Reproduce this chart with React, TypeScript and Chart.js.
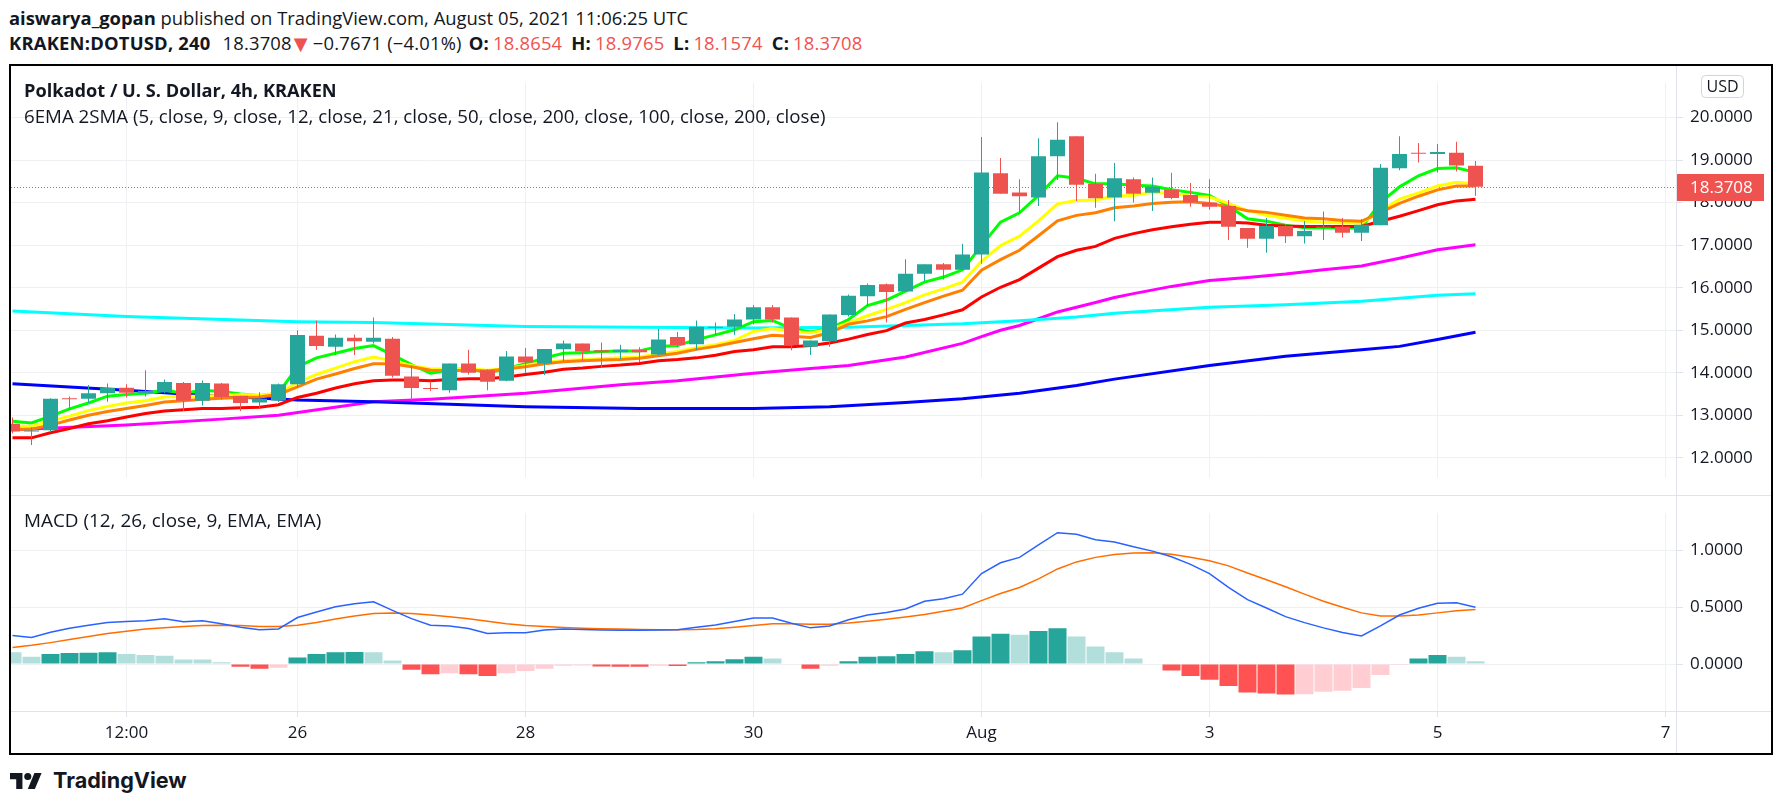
import React, { useEffect, useRef } from 'react';
import { Chart, registerables } from 'chart.js';

Chart.register(...registerables);

// ---------- data ----------
const tickIdx = [6, 15, 27, 39, 51, 63, 75, 87];
const tickLabels = ['12:00', '26', '28', '30', 'Aug', '3', '5', '7'];
const priceTicks = [12, 13, 14, 15, 16, 17, 18, 19, 20];
const macdTicks = [0, 0.5, 1];

const opens = [
  12.80, 12.62, 12.65, 13.40, 13.39, 13.52, 13.65, 13.52, 13.54, 13.76,
  13.34, 13.75, 13.46, 13.30, 13.35, 13.73, 14.87, 14.61, 14.82, 14.73,
  14.80, 13.91, 13.64, 13.59, 14.22, 14.06, 13.81, 14.38, 14.22, 14.55,
  14.69, 14.53, 14.48, 14.54, 14.43, 14.84, 14.67, 15.06, 15.08, 15.25,
  15.54, 15.30, 14.61, 14.74, 15.36, 15.80, 16.08, 15.91, 16.33, 16.55,
  16.42, 16.78, 18.69, 18.24, 18.12, 19.09, 19.56, 18.44, 18.12, 18.55,
  18.23, 18.30, 18.18, 18.00, 17.92, 17.40, 17.15, 17.45, 17.21, 17.41,
  17.43, 17.29, 17.47, 18.81, 19.17, 19.14, 19.17, 18.8654,
];
const highs = [
  12.95, 12.72, 13.40, 13.44, 13.71, 13.75, 13.73, 14.06, 13.84, 13.78,
  13.82, 13.76, 13.46, 13.54, 13.75, 15.00, 15.23, 14.90, 14.90, 15.30,
  14.84, 14.17, 13.80, 14.22, 14.54, 14.08, 14.51, 14.58, 14.56, 14.76,
  14.69, 14.71, 14.66, 14.60, 15.03, 14.96, 15.23, 15.18, 15.38, 15.59,
  15.59, 15.30, 14.76, 15.37, 15.84, 16.10, 16.10, 16.67, 16.55, 16.58,
  17.03, 19.54, 19.05, 18.55, 19.51, 19.89, 19.56, 18.68, 18.93, 18.59,
  18.59, 18.70, 18.46, 18.55, 18.06, 17.40, 17.64, 17.48, 17.57, 17.79,
  17.64, 17.61, 18.91, 19.56, 19.40, 19.38, 19.43, 18.9765,
];
const lows = [
  12.58, 12.30, 12.60, 13.13, 13.29, 13.32, 13.42, 13.44, 13.52, 13.10,
  13.23, 13.37, 13.10, 13.16, 13.31, 13.66, 14.54, 14.42, 14.42, 14.69,
  13.89, 13.36, 13.57, 13.53, 13.96, 13.59, 13.80, 13.99, 13.95, 14.27,
  14.27, 14.11, 14.32, 14.25, 14.40, 14.60, 14.53, 14.89, 14.89, 15.14,
  15.18, 14.53, 14.42, 14.61, 15.32, 15.57, 15.18, 15.90, 16.15, 16.19,
  16.42, 16.56, 18.21, 17.77, 17.92, 18.53, 18.04, 17.88, 17.56, 18.00,
  17.80, 18.08, 17.90, 17.83, 17.12, 16.94, 16.82, 17.05, 17.04, 17.12,
  17.18, 17.10, 17.47, 18.76, 18.94, 18.71, 18.73, 18.1574,
];
const closes = [
  12.62, 12.64, 13.39, 13.38, 13.52, 13.65, 13.53, 13.57, 13.78, 13.34,
  13.76, 13.43, 13.29, 13.39, 13.73, 14.89, 14.63, 14.82, 14.74, 14.82,
  13.93, 13.64, 13.62, 14.22, 14.00, 13.79, 14.38, 14.24, 14.56, 14.69,
  14.50, 14.48, 14.54, 14.48, 14.78, 14.65, 15.08, 15.08, 15.25, 15.54,
  15.25, 14.65, 14.76, 15.37, 15.81, 16.06, 15.90, 16.33, 16.55, 16.42,
  16.78, 18.71, 18.21, 18.15, 19.09, 19.48, 18.42, 18.10, 18.57, 18.21,
  18.37, 18.11, 18.00, 17.90, 17.43, 17.15, 17.45, 17.21, 17.33, 17.43,
  17.29, 17.48, 18.82, 19.14, 19.15, 19.19, 18.87, 18.3708,
];

const ema5 = [
  12.86, 12.82, 12.98, 13.15, 13.29, 13.45, 13.49, 13.52, 13.59, 13.52,
  13.59, 13.56, 13.50, 13.46, 13.52, 14.14, 14.35, 14.46, 14.57, 14.64,
  14.42, 14.19, 13.99, 14.06, 14.11, 13.99, 14.10, 14.21, 14.35, 14.46,
  14.47, 14.50, 14.51, 14.51, 14.62, 14.64, 14.78, 14.89, 15.01, 15.20,
  15.23, 15.04, 14.96, 15.04, 15.25, 15.58, 15.71, 15.92, 16.13, 16.25,
  16.42, 16.99, 17.54, 17.76, 18.17, 18.63, 18.57, 18.44, 18.44, 18.41,
  18.39, 18.30, 18.24, 18.17, 17.92, 17.62, 17.56, 17.47, 17.41, 17.41,
  17.40, 17.41, 18.00, 18.37, 18.63, 18.80, 18.82, 18.71,
];
const ema9 = [
  12.74, 12.74, 12.87, 12.98, 13.11, 13.21, 13.29, 13.34, 13.43, 13.45,
  13.45, 13.47, 13.49, 13.47, 13.52, 13.77, 13.96, 14.11, 14.26, 14.37,
  14.28, 14.17, 14.09, 14.09, 14.10, 14.06, 14.10, 14.17, 14.24, 14.29,
  14.31, 14.33, 14.35, 14.37, 14.44, 14.50, 14.59, 14.66, 14.76, 14.97,
  15.04, 14.97, 14.94, 15.02, 15.17, 15.34, 15.49, 15.65, 15.83, 15.97,
  16.13, 16.62, 16.99, 17.21, 17.57, 17.97, 18.05, 18.06, 18.15, 18.17,
  18.24, 18.22, 18.15, 18.13, 17.98, 17.81, 17.70, 17.63, 17.57, 17.54,
  17.52, 17.52, 17.79, 18.08, 18.23, 18.39, 18.48, 18.44,
];
const ema12 = [
  12.67, 12.67, 12.77, 12.89, 13.00, 13.09, 13.16, 13.23, 13.31, 13.34,
  13.38, 13.40, 13.42, 13.43, 13.49, 13.67, 13.85, 13.97, 14.10, 14.21,
  14.21, 14.14, 14.06, 14.05, 14.06, 14.04, 14.09, 14.14, 14.21, 14.26,
  14.28, 14.30, 14.31, 14.34, 14.40, 14.46, 14.55, 14.62, 14.71, 14.80,
  14.88, 14.86, 14.83, 14.94, 15.14, 15.22, 15.32, 15.49, 15.65, 15.80,
  15.94, 16.41, 16.66, 16.88, 17.22, 17.57, 17.70, 17.76, 17.88, 17.92,
  17.98, 18.01, 18.02, 17.98, 17.90, 17.81, 17.77, 17.70, 17.64, 17.62,
  17.58, 17.56, 17.77, 17.98, 18.15, 18.30, 18.39, 18.39,
];
const ema21 = [
  12.47, 12.47, 12.59, 12.69, 12.80, 12.87, 12.96, 13.04, 13.10, 13.13,
  13.16, 13.16, 13.18, 13.19, 13.25, 13.42, 13.52, 13.64, 13.74, 13.81,
  13.83, 13.83, 13.81, 13.84, 13.86, 13.86, 13.90, 13.96, 14.01, 14.08,
  14.11, 14.15, 14.18, 14.22, 14.28, 14.31, 14.35, 14.41, 14.50, 14.54,
  14.61, 14.61, 14.64, 14.70, 14.79, 14.90, 14.99, 15.17, 15.25, 15.36,
  15.48, 15.78, 16.01, 16.19, 16.46, 16.73, 16.88, 16.97, 17.16, 17.27,
  17.36, 17.43, 17.49, 17.54, 17.54, 17.52, 17.47, 17.45, 17.44, 17.44,
  17.44, 17.44, 17.56, 17.68, 17.81, 17.95, 18.04, 18.08,
];
// [candle index, value] read at the visible bends
const ema50Pts: [number, number][] = [
  [0, 12.66], [6, 12.77], [11, 12.91], [14, 13.00], [19, 13.32], [22, 13.38],
  [27, 13.52], [32, 13.72], [35, 13.81], [39, 13.99], [42, 14.10], [44, 14.17],
  [47, 14.37], [50, 14.69], [51, 14.85], [52, 15.00], [53, 15.11], [54, 15.27],
  [55, 15.43], [56, 15.54], [57, 15.65], [58, 15.77], [59, 15.86], [61, 16.03],
  [63, 16.17], [65, 16.24], [67, 16.32], [69, 16.42], [71, 16.51], [73, 16.69],
  [75, 16.89], [77, 17.01],
];
const sma100Pts: [number, number][] = [
  [0, 15.45], [6, 15.32], [15, 15.20], [19, 15.18], [27, 15.09], [33, 15.07],
  [39, 15.05], [44, 15.07], [47, 15.11], [50, 15.15], [53, 15.22], [56, 15.31],
  [58, 15.40], [63, 15.54], [67, 15.60], [71, 15.68], [75, 15.82], [77, 15.86],
];
const ema200Pts: [number, number][] = [
  [0, 13.74], [6, 13.59], [10, 13.47], [15, 13.36], [19, 13.32], [27, 13.20],
  [33, 13.16], [39, 13.16], [43, 13.20], [47, 13.30], [50, 13.39], [53, 13.52],
  [56, 13.70], [58, 13.85], [63, 14.17], [67, 14.39], [71, 14.54], [73, 14.62],
  [75, 14.78], [77, 14.95],
];

const macdLine = [
  0.251, 0.235, 0.281, 0.316, 0.343, 0.367, 0.375, 0.381, 0.400, 0.373,
  0.381, 0.356, 0.324, 0.302, 0.310, 0.410, 0.459, 0.505, 0.532, 0.548,
  0.473, 0.400, 0.343, 0.335, 0.313, 0.270, 0.275, 0.275, 0.300, 0.310,
  0.305, 0.300, 0.297, 0.297, 0.300, 0.302, 0.325, 0.345, 0.375, 0.405,
  0.405, 0.360, 0.319, 0.335, 0.390, 0.432, 0.454, 0.486, 0.554, 0.575,
  0.616, 0.797, 0.892, 0.940, 1.049, 1.157, 1.143, 1.095, 1.076, 1.033,
  0.995, 0.946, 0.878, 0.797, 0.675, 0.567, 0.494, 0.418, 0.365, 0.319,
  0.278, 0.248, 0.337, 0.432, 0.492, 0.535, 0.540, 0.500,
];
const signalLine = [
  0.146, 0.165, 0.189, 0.216, 0.243, 0.270, 0.289, 0.308, 0.321, 0.332,
  0.340, 0.343, 0.340, 0.332, 0.330, 0.343, 0.367, 0.397, 0.424, 0.446,
  0.451, 0.446, 0.432, 0.416, 0.400, 0.378, 0.356, 0.340, 0.330, 0.322,
  0.316, 0.312, 0.308, 0.305, 0.303, 0.302, 0.305, 0.312, 0.325, 0.340,
  0.356, 0.355, 0.350, 0.351, 0.362, 0.378, 0.395, 0.415, 0.437, 0.465,
  0.494, 0.559, 0.621, 0.675, 0.751, 0.838, 0.900, 0.940, 0.965, 0.978,
  0.980, 0.967, 0.940, 0.911, 0.865, 0.802, 0.743, 0.681, 0.616, 0.554,
  0.500, 0.451, 0.424, 0.424, 0.432, 0.451, 0.470, 0.481,
];
const histogram = [
  0.105, 0.065, 0.089, 0.097, 0.099, 0.105, 0.089, 0.081, 0.073, 0.041,
  0.040, 0.016, -0.024, -0.041, -0.032, 0.057, 0.089, 0.105, 0.107, 0.105,
  0.032, -0.049, -0.089, -0.081, -0.089, -0.105, -0.081, -0.062, -0.041, -0.014,
  -0.012, -0.022, -0.023, -0.024, -0.014, -0.016, 0.016, 0.024, 0.043, 0.065,
  0.049, 0.005, -0.041, -0.014, 0.024, 0.065, 0.068, 0.089, 0.113, 0.105,
  0.122, 0.243, 0.267, 0.259, 0.292, 0.316, 0.243, 0.154, 0.105, 0.049,
  0.004, -0.057, -0.105, -0.138, -0.194, -0.251, -0.259, -0.267, -0.265, -0.243,
  -0.235, -0.211, -0.097, -0.008, 0.049, 0.081, 0.065, 0.024,
];

// ---------- styles / layout ----------
const FONT = "'Open Sans', 'Noto Sans', sans-serif";
const TEXT = '#131722';
const GRID = '#eef0f4';
const SEP = '#e0e3eb';
const UP = '#26a69a';
const DOWN = '#ef5350';
const RED_TXT = '#ef5350';

const CANVAS_W = 1760;
const AXIS_W = 95;
const PX_PER_CANDLE = 19;
const FIRST_CANDLE_PX = 1.5;
const PLOT_W = CANVAS_W - AXIS_W;
const XMIN = -FIRST_CANDLE_PX / PX_PER_CANDLE;
const XMAX = XMIN + PLOT_W / PX_PER_CANDLE;
const MAIN_H = 429;
const MACD_H = 257;
const MACD_AXIS_H = 42;
const PRICE_MIN = 11.5308;
const PRICE_MAX = 20.8065;
const MACD_MIN = -0.4133;
const MACD_MAX = 1.329;

const seq = (arr: number[]) => arr.map((v, i) => ({ x: i, y: v }));
const pts = (arr: [number, number][]) => arr.map(([x, y]) => ({ x, y }));

const lineDs = (label: string, data: { x: number; y: number }[], color: string, width: number, order: number) => ({
  type: 'line' as const,
  label,
  data,
  borderColor: color,
  backgroundColor: color,
  borderWidth: width,
  pointRadius: 0,
  tension: 0,
  fill: false,
  order,
});

const lastPricePlugin = {
  id: 'lastPrice',
  beforeDatasetsDraw(chart: any) {
    const { ctx, chartArea, scales } = chart;
    const last = closes[closes.length - 1];
    const y = Math.round(scales.y.getPixelForValue(last)) + 0.5;
    ctx.save();
    ctx.strokeStyle = DOWN;
    ctx.lineWidth = 1;
    ctx.setLineDash([1, 2]);
    ctx.beginPath();
    ctx.moveTo(chartArea.left, y);
    ctx.lineTo(chartArea.right, y);
    ctx.stroke();
    ctx.restore();
  },
  afterDraw(chart: any) {
    const { ctx, scales } = chart;
    const yScale = scales.y;
    const last = closes[closes.length - 1];
    const y = yScale.getPixelForValue(last);
    ctx.save();
    ctx.fillStyle = DOWN;
    ctx.fillRect(yScale.left, Math.round(y - 13), 88, 27);
    ctx.fillStyle = '#ffffff';
    ctx.font = `17px ${FONT}`;
    ctx.textBaseline = 'middle';
    ctx.textAlign = 'left';
    ctx.fillText(last.toFixed(4), yScale.left + 14, y + 1);
    // currency badge
    const bx = yScale.left + 25.5;
    const by = 9.5;
    ctx.beginPath();
    ctx.roundRect(bx, by, 42, 22, 4);
    ctx.fillStyle = '#ffffff';
    ctx.fill();
    ctx.strokeStyle = '#d1d4dc';
    ctx.lineWidth = 1;
    ctx.stroke();
    ctx.fillStyle = TEXT;
    ctx.font = `16px ${FONT}`;
    ctx.textAlign = 'center';
    ctx.fillText('USD', bx + 21, by + 11.5);
    ctx.restore();
  },
};

const xScaleBase = {
  type: 'linear' as const,
  min: XMIN,
  max: XMAX,
  offset: false,
  afterBuildTicks: (axis: any) => {
    axis.ticks = tickIdx.map((v) => ({ value: v }));
  },
};

export default function App() {
  const mainRef = useRef<HTMLCanvasElement>(null);
  const macdRef = useRef<HTMLCanvasElement>(null);

  useEffect(() => {
    const candleColors = closes.map((c, i) => (c >= opens[i] ? UP : DOWN));
    const histColors = histogram.map((v, i) => {
      const prev = i > 0 ? histogram[i - 1] : Infinity;
      if (v >= 0) return v > prev ? '#26a69a' : '#b2dfdb';
      return v < prev ? '#ff5252' : '#ffcdd2';
    });

    const main = new Chart(mainRef.current as HTMLCanvasElement, {
      type: 'bar',
      data: {
        datasets: [
          {
            type: 'bar',
            label: 'Body',
            data: closes.map((c, i) => ({ x: i, y: [opens[i], c] })) as any,
            backgroundColor: candleColors,
            barThickness: 15,
            minBarLength: 1,
            grouped: false,
            borderWidth: 0,
            inflateAmount: 0,
            order: 0,
          } as any,
          {
            type: 'bar',
            label: 'Wick',
            data: closes.map((_, i) => ({ x: i, y: [lows[i], highs[i]] })) as any,
            backgroundColor: candleColors,
            barThickness: 1,
            grouped: false,
            borderWidth: 0,
            inflateAmount: 0,
            order: 0,
          } as any,
          lineDs('EMA 200', pts(ema200Pts), '#0000ff', 3, 2),
          lineDs('SMA 100', pts(sma100Pts), '#00ffff', 3, 2),
          lineDs('EMA 50', pts(ema50Pts), '#ff00ff', 3, 2),
          lineDs('EMA 21', seq(ema21), '#ff0000', 3, 1),
          lineDs('EMA 12', seq(ema12), '#ff8000', 3, 1),
          lineDs('EMA 9', seq(ema9), '#ffff00', 3, 1),
          lineDs('EMA 5', seq(ema5), '#00ff00', 3, 1),
        ] as any,
      },
      options: {
        responsive: false,
        maintainAspectRatio: false,
        animation: false,
        events: [],
        layout: { padding: 0 },
        plugins: { legend: { display: false }, tooltip: { enabled: false } },
        scales: {
          x: {
            ...xScaleBase,
            ticks: { display: false },
            grid: { color: GRID, drawTicks: false, offset: false },
            border: { display: false },
            afterFit: (axis: any) => {
              axis.height = 0;
            },
          },
          y: {
            type: 'linear',
            position: 'right',
            min: PRICE_MIN,
            max: PRICE_MAX,
            afterBuildTicks: (axis: any) => {
              axis.ticks = priceTicks.map((v) => ({ value: v }));
            },
            ticks: {
              callback: (v: any) => Number(v).toFixed(4),
              font: { family: FONT, size: 17 },
              color: TEXT,
              padding: 7,
            },
            grid: { color: GRID, tickColor: SEP, tickLength: 7, drawTicks: true },
            border: { display: false },
            afterFit: (axis: any) => {
              axis.width = AXIS_W;
            },
          },
        },
      } as any,
      plugins: [lastPricePlugin],
    });

    const macd = new Chart(macdRef.current as HTMLCanvasElement, {
      type: 'bar',
      data: {
        datasets: [
          lineDs('MACD', seq(macdLine), '#2962ff', 1.5, 0),
          lineDs('Signal', seq(signalLine), '#ff6d00', 1.5, 0),
          {
            type: 'bar',
            label: 'Histogram',
            data: seq(histogram) as any,
            backgroundColor: histColors,
            barThickness: 18,
            grouped: false,
            borderWidth: 0,
            inflateAmount: 0,
            order: 1,
          } as any,
        ] as any,
      },
      options: {
        responsive: false,
        maintainAspectRatio: false,
        animation: false,
        events: [],
        layout: { padding: 0 },
        plugins: { legend: { display: false }, tooltip: { enabled: false } },
        scales: {
          x: {
            ...xScaleBase,
            ticks: {
              callback: (v: any) => tickLabels[tickIdx.indexOf(Number(v))],
              font: { family: FONT, size: 17 },
              color: TEXT,
              maxRotation: 0,
              autoSkip: false,
              padding: 6,
            },
            grid: { color: GRID, tickColor: SEP, tickLength: 6, drawTicks: true, offset: false },
            border: { display: false },
            afterFit: (axis: any) => {
              axis.height = MACD_AXIS_H;
            },
          },
          y: {
            type: 'linear',
            position: 'right',
            min: MACD_MIN,
            max: MACD_MAX,
            afterBuildTicks: (axis: any) => {
              axis.ticks = macdTicks.map((v) => ({ value: v }));
            },
            ticks: {
              callback: (v: any) => Number(v).toFixed(4),
              font: { family: FONT, size: 17 },
              color: TEXT,
              padding: 7,
            },
            grid: { color: GRID, tickColor: SEP, tickLength: 7, drawTicks: true },
            border: { display: false },
            afterFit: (axis: any) => {
              axis.width = AXIS_W;
            },
          },
        },
      } as any,
    });

    return () => {
      main.destroy();
      macd.destroy();
    };
  }, []);

  const red = { color: RED_TXT };
  const val = { color: RED_TXT, marginLeft: 4 };
  const abs = (l: number, t: number, extra: any = {}) => ({ position: 'absolute' as const, left: l, top: t, whiteSpace: 'nowrap' as const, ...extra });

  return (
    <div style={{ position: 'absolute', left: 0, top: 0, width: 1783, height: 809, background: '#ffffff', overflow: 'hidden', fontFamily: FONT, color: TEXT }}>
      <div style={abs(9, 6, { fontSize: 18.4, lineHeight: '24px' })}>
        <span style={{ fontWeight: 700 }}>aiswarya_gopan</span> published on TradingView.com, August 05, 2021 11:06:25 UTC
      </div>
      <div style={abs(9, 31, { fontSize: 18.4, lineHeight: '24px', letterSpacing: '0.2px' })}>
        <span style={{ fontWeight: 700 }}>KRAKEN:DOTUSD, 240</span>
        <span style={{ marginLeft: 12 }}>18.3708</span>
        <span style={{ ...red, fontFamily: "'DejaVu Sans', sans-serif", fontSize: 18, marginLeft: 2 }}>▼</span>
        <span style={{ marginLeft: 5 }}>−0.7671 (−4.01%)</span>
        <span style={{ fontWeight: 700, marginLeft: 7 }}>O:</span><span style={val}>18.8654</span>
        <span style={{ fontWeight: 700, marginLeft: 9 }}>H:</span><span style={val}>18.9765</span>
        <span style={{ fontWeight: 700, marginLeft: 9 }}>L:</span><span style={val}>18.1574</span>
        <span style={{ fontWeight: 700, marginLeft: 9 }}>C:</span><span style={val}>18.3708</span>
      </div>

      {/* frame */}
      <div style={abs(9, 64, { width: 1764, height: 691, border: '2px solid #000000', boxSizing: 'border-box' })} />

      <canvas ref={mainRef} width={CANVAS_W} height={MAIN_H} style={abs(11, 66, { display: 'block', width: CANVAS_W, height: MAIN_H })} />
      <canvas ref={macdRef} width={CANVAS_W} height={MACD_H} style={abs(11, 496, { display: 'block', width: CANVAS_W, height: MACD_H })} />

      {/* pane separators */}
      <div style={abs(11, 495, { width: 1760, height: 1, background: SEP })} />
      <div style={abs(11, 711, { width: 1760, height: 1, background: SEP })} />
      <div style={abs(11 + PLOT_W, 66, { width: 1, height: 687, background: SEP })} />

      {/* pane legends */}
      <div style={abs(24, 78, { fontSize: 18.2, lineHeight: '24px', fontWeight: 700 })}>Polkadot / U. S. Dollar, 4h, KRAKEN</div>
      <div style={abs(24, 104, { fontSize: 18.7, lineHeight: '24px' })}>
        6EMA 2SMA (5, close, 9, close, 12, close, 21, close, 50, close, 200, close, 100, close, 200, close)
      </div>
      <div style={abs(24, 508, { fontSize: 18.9, lineHeight: '24px' })}>MACD (12, 26, close, 9, EMA, EMA)</div>

      {/* footer logo */}
      <svg style={abs(10, 773)} width={32} height={16} viewBox="0 4 36 18">
        <path d="M14 22H7V11H0V4h14v18z" fill={TEXT} />
        <circle cx={20} cy={8} r={4} fill={TEXT} />
        <path d="M28 22h-8l7.5-18h8L28 22z" fill={TEXT} />
      </svg>
      <div style={abs(53, 768, { fontFamily: "Inter, 'Open Sans', sans-serif", fontWeight: 700, fontSize: 21.6, lineHeight: '24px' })}>TradingView</div>
    </div>
  );
}
